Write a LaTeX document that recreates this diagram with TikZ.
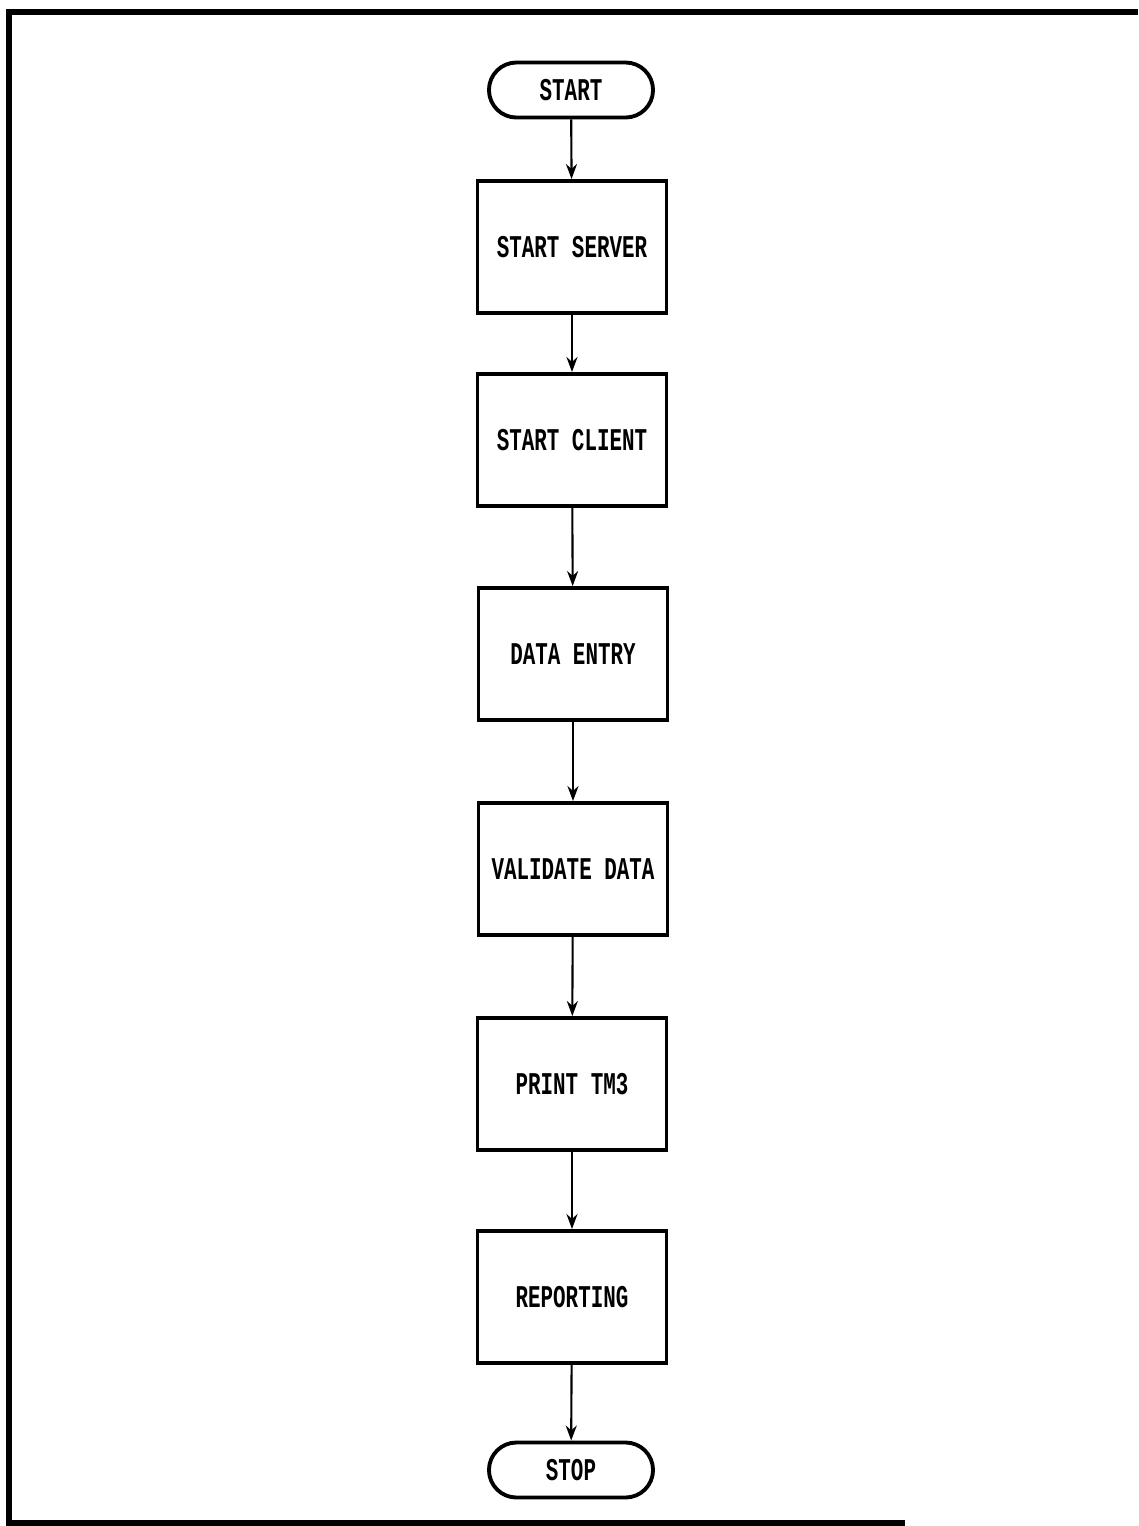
\documentclass[tikz,border=0pt]{standalone}
\usepackage{fontspec}
\newfontfamily\flowfont[FakeStretch=0.66]{Liberation Mono}
\usepackage{tikz}
\usetikzlibrary{arrows.meta,shapes.misc}

\begin{document}
\begin{tikzpicture}[x=0.01cm, y=-0.01cm,
  procbox/.style={draw, line width=1.1pt, minimum width=1.89cm, minimum height=1.32cm, inner sep=0pt, font=\flowfont\bfseries\fontsize{9}{10}\selectfont},
  termnode/.style={draw, rounded rectangle, line width=1.1pt, minimum width=1.64cm, minimum height=0.55cm, inner sep=0pt, font=\flowfont\bfseries\fontsize{9}{10}\selectfont},
  flowarrow/.style={-{Stealth[length=1.5mm, width=1.1mm]}, line width=0.6pt}]
\useasboundingbox (0,0) rectangle (1138,1526);
\draw[line width=1.5pt] (1138,12) -- (9,12) -- (9,1523) -- (905,1523);
\node[termnode] (start) at (571,90) {START};
\node[procbox] (server) at (572,247) {START SERVER};
\node[procbox] (client) at (572,440) {START CLIENT};
\node[procbox] (entry) at (573,654) {DATA ENTRY};
\node[procbox] (validate) at (573,869) {VALIDATE DATA};
\node[procbox] (print) at (572,1084) {PRINT TM3};
\node[procbox] (report) at (572,1297) {REPORTING};
\node[termnode] (stop) at (571,1470) {STOP};
\draw[flowarrow] (start) -- (server);
\draw[flowarrow] (server) -- (client);
\draw[flowarrow] (client) -- (entry);
\draw[flowarrow] (entry) -- (validate);
\draw[flowarrow] (validate) -- (print);
\draw[flowarrow] (print) -- (report);
\draw[flowarrow] (report) -- (stop);
\end{tikzpicture}
\end{document}
